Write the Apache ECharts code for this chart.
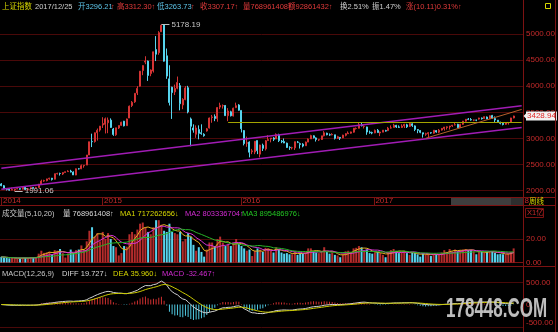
<!DOCTYPE html>
<html>
<head>
<meta charset="utf-8">
<title>上证指数 周线</title>
<script src="https://cdn.jsdelivr.net/npm/echarts@6.0.0/dist/echarts.min.js"></script>
<style>
html,body{margin:0;padding:0;background:#000;overflow:hidden}
#chart{width:558px;height:332px}
</style>
</head>
<body>
<div id="chart"></div>
<script>
// Weekly bars of the Shanghai Composite (上证指数); volume in units of 1亿 (100M lots)
const weekDates = [
'2014-04-14','2014-04-21','2014-04-28','2014-05-05','2014-05-12','2014-05-19','2014-05-26','2014-06-03','2014-06-09','2014-06-16',
'2014-06-23','2014-06-30','2014-07-07','2014-07-14','2014-07-21','2014-07-28','2014-08-04','2014-08-11','2014-08-18','2014-08-25',
'2014-09-01','2014-09-09','2014-09-15','2014-09-22','2014-09-29','2014-10-08','2014-10-13','2014-10-20','2014-10-27','2014-11-03',
'2014-11-10','2014-11-17','2014-11-24','2014-12-01','2014-12-08','2014-12-15','2014-12-22','2014-12-29',
'2015-01-05','2015-01-12','2015-01-19','2015-01-26','2015-02-02','2015-02-09','2015-02-16','2015-02-25','2015-03-02','2015-03-09',
'2015-03-16','2015-03-23','2015-03-30','2015-04-07','2015-04-13','2015-04-20','2015-04-27','2015-05-04','2015-05-11','2015-05-18',
'2015-05-25','2015-06-01','2015-06-08','2015-06-15','2015-06-23','2015-06-29','2015-07-06','2015-07-13','2015-07-20','2015-07-27',
'2015-08-03','2015-08-10','2015-08-17','2015-08-24','2015-08-31','2015-09-07','2015-09-14','2015-09-21','2015-09-28','2015-10-08',
'2015-10-12','2015-10-19','2015-10-26','2015-11-02','2015-11-09','2015-11-16','2015-11-23','2015-11-30','2015-12-07','2015-12-14',
'2015-12-21','2015-12-28',
'2016-01-04','2016-01-11','2016-01-18','2016-01-25','2016-02-01','2016-02-15','2016-02-22','2016-02-29','2016-03-07','2016-03-14',
'2016-03-21','2016-03-28','2016-04-05','2016-04-11','2016-04-18','2016-04-25','2016-05-03','2016-05-09','2016-05-16','2016-05-23',
'2016-05-30','2016-06-06','2016-06-13','2016-06-20','2016-06-27','2016-07-04','2016-07-11','2016-07-18','2016-07-25','2016-08-01',
'2016-08-08','2016-08-15','2016-08-22','2016-08-29','2016-09-05','2016-09-12','2016-09-19','2016-09-26','2016-10-10','2016-10-17',
'2016-10-24','2016-10-31','2016-11-07','2016-11-14','2016-11-21','2016-11-28','2016-12-05','2016-12-12','2016-12-19','2016-12-26',
'2017-01-03','2017-01-09','2017-01-16','2017-01-23','2017-02-03','2017-02-06','2017-02-13','2017-02-20','2017-02-27','2017-03-06',
'2017-03-13','2017-03-20','2017-03-27','2017-04-05','2017-04-10','2017-04-17','2017-04-24','2017-05-02','2017-05-08','2017-05-15',
'2017-05-22','2017-05-31','2017-06-05','2017-06-12','2017-06-19','2017-06-26','2017-07-03','2017-07-10','2017-07-17','2017-07-24',
'2017-07-31','2017-08-07','2017-08-14','2017-08-21','2017-08-28','2017-09-04','2017-09-11','2017-09-18','2017-09-25','2017-10-09',
'2017-10-16','2017-10-23','2017-10-30','2017-11-06','2017-11-13','2017-11-20','2017-11-27','2017-12-04','2017-12-11','2017-12-18',
'2017-12-25','2018-01-02','2018-01-08'
];

const openPrices = [
2130,2096,2033,2027,2012,2020,2035,2040,2030,2068,2023,2038,2060,2050,2060,2130,2185,2193,2228,2240,
2220,2325,2330,2320,2350,2365,2375,2357,2300,2420,2420,2478,2490,2683,2940,2940,3110,3160,
3258,3270,3300,3350,3180,3070,3200,3250,3330,3245,3390,3630,3700,3870,4000,4300,4460,4480,4240,4290,
4700,4640,5040,5170,4580,4140,3980,3890,3960,4010,3640,3744,3970,3373,3200,3080,3170,3110,3078,3143,
3200,3400,3420,3380,3600,3620,3630,3435,3510,3430,3590,3640,
3536,3150,2910,2930,2745,2740,2960,2700,2870,2800,2960,2990,3009,2990,3070,2950,2940,2910,2830,2820,
2820,2930,2900,2890,2860,2930,2990,3050,3010,2970,2980,3050,3100,3070,3070,3070,3000,3020,3010,3060,
3090,3100,3120,3190,3195,3260,3230,3220,3120,3110,
3105,3155,3105,3120,3150,3150,3200,3210,3250,3220,3210,3240,3260,3230,3280,3240,3170,3150,3110,3080,
3090,3110,3100,3150,3120,3160,3190,3210,3220,3240,3260,3270,3210,3270,3330,3370,3360,3350,3350,3370,
3390,3380,3410,3380,3440,3380,3350,3310,3290,3270,3296.21,3314,3392
];
const highPrices = [
2146,2110,2035,2032,2060,2035,2062,2043,2077,2075,2045,2075,2069,2075,2130,2211,2210,2230,2248,2245,
2326,2344,2345,2355,2365,2392,2400,2370,2425,2435,2500,2488,2683,2937,3091,3115,3190,3239,
3406,3400,3400,3384,3200,3205,3250,3320,3336,3380,3630,3715,3865,4000,4290,4400,4572,4490,4320,4660,
4958,5051,5178.19,5176,4720,4400,3990,4030,4184,4060,3770,4000,4006,3400,3270,3250,3250,3270,3100,3200,
3400,3450,3460,3600,3684,3650,3640,3580,3530,3590,3685,3656,
3538,3160,3035,2945,2800,2950,2960,2880,2900,2970,3062,3010,3025,3097,3090,2970,3000,2920,2850,2840,
2940,2950,2920,2910,2940,3000,3070,3060,3020,2990,3050,3140,3110,3095,3100,3070,3050,3020,3070,3100,
3135,3130,3200,3210,3300,3301,3250,3225,3150,3130,
3170,3180,3130,3160,3165,3220,3250,3280,3260,3250,3270,3280,3280,3295,3290,3250,3180,3160,3110,3110,
3120,3115,3160,3160,3180,3200,3220,3230,3240,3260,3300,3280,3280,3335,3370,3390,3390,3360,3360,3395,
3400,3420,3420,3440,3450,3420,3350,3320,3310,3310,3312.30,3395,3435
];
const lowPrices = [
2086,2030,2004,2001,2010,1991.06,2030,2021,2025,2010,2010,2036,2040,2045,2058,2128,2170,2180,2210,2195,
2216,2310,2290,2300,2345,2360,2350,2300,2296,2405,2412,2440,2490,2683,2835,2920,2960,3130,
3200,3095,3100,3200,3050,3049,3180,3240,3230,3245,3390,3600,3680,3830,3990,4210,4420,4100,4190,4260,
4480,4600,5040,4470,4140,3630,3373,3830,3940,3537,3560,3730,3480,2850,3110,3011,2983,3070,3033,3130,
3190,3300,3330,3320,3560,3570,3430,3330,3420,3420,3580,3530,
3115,2867,2840,2638,2700,2700,2700,2638,2760,2770,2950,2925,2950,2990,2931,2910,2910,2820,2780,2790,
2780,2910,2807,2830,2860,2930,2990,3000,2940,2950,2970,3040,3060,3050,3060,2980,2990,2970,3010,3040,
3090,3090,3110,3170,3190,3230,3190,3070,3090,3080,
3100,3110,3044,3120,3130,3140,3190,3210,3200,3200,3200,3200,3200,3220,3220,3140,3100,3100,3016,3050,
3020,3090,3090,3110,3100,3150,3150,3170,3170,3220,3250,3200,3200,3260,3320,3350,3340,3330,3330,3360,
3360,3370,3370,3370,3380,3310,3300,3270,3250,3260,3263.73,3314,3384
];
const closePrices = [
2097,2036,2026,2011,2026,2034,2039,2030,2070,2024,2036,2060,2047,2059,2126,2185,2194,2226,2240,2217,
2326,2331,2329,2347,2363,2374,2357,2302,2420,2419,2478,2487,2683,2937,2938,3108,3157,3235,
3285,3376,3351,3210,3076,3203,3247,3310,3241,3372,3617,3691,3863,3957,4287,4393,4480,4205,4308,4657,
4611,5023,5166,4478,4192,3687,3877,3957,4070,3664,3744,3965,3508,3232,3160,3200,3098,3092,3053,3183,
3391,3412,3383,3590,3632,3630,3436,3525,3434,3578,3627,3539,
3186,2901,2916,2737,2763,2946,2767,2874,2810,2955,2979,3009,2985,3078,2959,2938,2913,2827,2825,2822,
2938,2927,2885,2854,2932,2988,3054,3013,2979,2977,3050,3108,3070,3067,3078,3003,3033,3005,3064,3091,
3104,3125,3196,3192,3262,3243,3232,3122,3110,3104,
3154,3112,3123,3159,3140,3196,3202,3253,3218,3212,3237,3269,3222,3286,3246,3173,3155,3117,3083,3090,
3110,3105,3158,3123,3158,3192,3217,3222,3238,3253,3262,3208,3268,3332,3367,3365,3353,3353,3349,3391,
3378,3416,3372,3433,3382,3353,3317,3289,3266,3297.06,3307.17,3391.75,3428.94
];
const volumes = [
4.8,4.5,3.9,3.6,3.9,3.7,3.3,3.6,4.2,4.0,3.6,4.6,4.2,4.6,7.5,10.0,8.2,8.6,9.2,6.5,
10.5,10.0,11.5,8.0,4.2,7.5,11.0,8.3,10.5,11.0,14.5,11.0,18.0,27.0,30.0,22.0,25.0,18.0,
26.0,20.0,25.0,20.0,14.0,13.0,6.0,8.0,14.0,13.5,24.0,26.0,24.0,28.0,33.0,34.0,30.0,26.0,24.0,30.0,
36.0,36.0,32.0,27.0,26.0,33.0,26.0,25.0,24.0,26.0,18.0,20.0,25.0,22.0,15.0,10.0,13.0,9.0,5.0,11.0,
17.0,17.0,14.0,20.0,22.0,17.0,14.0,15.0,14.0,17.0,20.0,16.0,
14.0,12.0,10.0,11.0,5.5,10.0,12.0,11.0,9.0,12.5,12.0,10.0,8.5,13.0,11.5,8.5,7.5,8.0,7.0,7.0,
9.5,6.5,8.0,7.5,8.5,12.0,12.0,9.5,8.5,8.0,9.5,13.0,9.0,7.5,8.5,6.5,6.0,4.5,7.0,9.5,
10.0,9.0,12.0,12.5,14.0,13.0,10.0,11.0,8.0,7.5,
8.5,9.0,8.0,6.5,4.5,9.0,10.5,11.5,9.5,8.0,9.0,10.0,8.0,6.5,8.5,8.0,7.0,5.0,8.0,7.0,
7.5,5.5,7.0,7.0,6.5,8.5,10.5,9.0,11.5,9.5,11.0,9.5,10.5,11.0,11.5,10.5,10.5,9.5,7.0,9.0,
9.77,8.5,9.0,9.2,9.6,8.19,7.0,7.2,7.0,6.95,7.69,9.0,12.0
];

// axis ticks and drawn reference lines
const priceTicks = [2000, 2500, 3000, 3500, 4000, 4500, 5000];
const volumeTicks = [0, 20];
const macdTicks = [-500, 0, 500];
const channelUpper = [[0, 2432], [195, 3624]];
const channelLower = [[0, 2030], [195, 3211]];
const supportLine = [[85, 3309], [195, 3309]];
const riseLine = [[159, 3003], [195, 3555]];

const FONT = '"Liberation Sans","Noto Sans CJK SC",sans-serif';
const HEAD_FONT = '7.5px ' + FONT;
const AXIS_TXT = '#c42a2a';
const GRID_CLR = '#4a0909';
const FRAME = '#7c1212';
const UP = '#d43434';
const DOWN = '#56d4ee';

const cats = weekDates.concat([' ', '  ', '   ']);
const lastBar = closePrices.length - 1;

const candleData = openPrices.map((o, i) => [o, closePrices[i], lowPrices[i], highPrices[i]]);

let hiIdx = 0, loIdx = 0;
highPrices.forEach((v, i) => { if (v > highPrices[hiIdx]) hiIdx = i; });
lowPrices.forEach((v, i) => { if (v < lowPrices[loIdx]) loIdx = i; });

// moving averages of volume (window shortened at the start of the range)
function movingAvg(arr, n) {
  return arr.map((_, i) => {
    const s = Math.max(0, i - n + 1);
    let t = 0;
    for (let k = s; k <= i; k++) t += arr[k];
    return +(t / (i - s + 1)).toFixed(3);
  });
}
function ema(arr, n) {
  const a = 2 / (n + 1), out = [];
  arr.forEach((v, i) => out.push(i === 0 ? v : a * v + (1 - a) * out[i - 1]));
  return out;
}
const volMA5 = movingAvg(volumes, 5);
const volMA10 = movingAvg(volumes, 10);
const volMA20 = movingAvg(volumes, 20);
const ema12 = ema(closePrices, 12), ema26 = ema(closePrices, 26);
const diffLine = ema12.map((v, i) => +(v - ema26[i]).toFixed(3));
const deaLine = ema(diffLine, 9).map(v => +v.toFixed(3));
const macdBars = diffLine.map((v, i) => +(2 * (v - deaLine[i])).toFixed(3));

const volData = volumes.map((v, i) => ({
  value: v,
  itemStyle: { color: closePrices[i] >= openPrices[i] ? '#b42c2c' : DOWN }
}));
const macdData = macdBars.map(v => ({ value: v, itemStyle: { color: v >= 0 ? '#d03030' : '#4fc8e0' } }));

const isYearStart = (idx) => idx < weekDates.length && (idx === 0 || weekDates[idx].slice(0, 4) !== weekDates[idx - 1].slice(0, 4));

function seg(pts, color, width) {
  return [
    { coord: [cats[pts[0][0]], pts[0][1]], lineStyle: { color: color, width: width, type: 'solid' } },
    { coord: [cats[pts[1][0]], pts[1][1]] }
  ];
}
function extremeNote(idx, val) {
  return [
    { coord: [cats[idx], val], lineStyle: { color: '#bdbdbd', width: 1, type: 'solid' },
      label: { show: true, position: 'end', distance: 2, formatter: val.toFixed(2), color: '#c6c6c6', fontSize: 8, fontFamily: FONT } },
    { coord: [cats[idx + 3], val] }
  ];
}

// header texts
const titleItems = [
  { x: 2, t: '上证指数', c: '#d6d600' },
  { x: 35, t: '2017/12/25', c: '#cfcfcf' },
  { x: 78, t: '开3296.21', c: '#5ec6ea' }, { x: 111, t: '↑', c: '#e03a3a' },
  { x: 117, t: '高3312.30↑', c: '#e03a3a' },
  { x: 157, t: '低3263.73', c: '#5ec6ea' }, { x: 191, t: '↑', c: '#e03a3a' },
  { x: 200, t: '收3307.17↑', c: '#e03a3a' },
  { x: 243, t: '量768961408↑', c: '#e03a3a' },
  { x: 288, t: '额92861432↑', c: '#e03a3a' },
  { x: 340, t: '换2.51%', c: '#cfcfcf' },
  { x: 372, t: '振1.47%', c: '#cfcfcf' },
  { x: 406, t: '涨(10.11)0.31%↑', c: '#e03a3a' }
];
const volHeader = [
  { x: 2, t: '成交量(5,10,20)', c: '#c8c8c8' },
  { x: 63, t: '量 768961408↑', c: '#d8d8d8' },
  { x: 120, t: 'MA1 717262656↓', c: '#d6d600' },
  { x: 185, t: 'MA2 803336704↑', c: '#d22ad2' },
  { x: 242, t: 'MA3 895486976↓', c: '#22c422' }
];
const macdHeader = [
  { x: 2, t: 'MACD(12,26,9)', c: '#c8c8c8' },
  { x: 62, t: 'DIFF 19.727↓', c: '#d8d8d8' },
  { x: 113, t: 'DEA 35.960↓', c: '#d6d600' },
  { x: 162, t: 'MACD -32.467↑', c: '#d22ad2' }
];

function textRow(items, y) {
  return items.map(it => ({
    type: 'text', x: it.x, y: y, z: 50,
    style: { text: it.t, fill: it.c, font: HEAD_FONT, verticalAlign: 'middle' }
  }));
}
function hLine(y, x1, x2, color) {
  return { type: 'line', z: 40, shape: { x1: x1, y1: y, x2: x2, y2: y }, style: { stroke: color || FRAME, lineWidth: 1 } };
}
function vLine(x, y1, y2, color) {
  return { type: 'line', z: 40, shape: { x1: x, y1: y1, x2: x, y2: y2 }, style: { stroke: color || FRAME, lineWidth: 1 } };
}

const axisLabelBase = { color: AXIS_TXT, fontSize: 8, fontFamily: FONT, margin: 3 };

const chart = echarts.init(document.getElementById('chart'), null, { renderer: 'canvas' });
chart.setOption({
  backgroundColor: '#000',
  animation: false,
  grid: [
    { left: 0, right: 35, top: 14, height: 183 },
    { left: 0, right: 35, top: 197, height: 9 },
    { left: 0, right: 35, top: 217, height: 45.5 },
    { left: 0, right: 35, top: 277.9, height: 53.3 }
  ],
  xAxis: [
    { type: 'category', gridIndex: 0, data: cats, axisLine: { show: false }, axisTick: { show: false }, axisLabel: { show: false } },
    { type: 'category', gridIndex: 1, data: cats, axisLine: { show: false },
      axisTick: { show: true, inside: true, length: 9, interval: isYearStart, lineStyle: { color: FRAME } },
      axisLabel: { show: true, inside: true, interval: isYearStart, margin: 1, align: 'left', color: AXIS_TXT, fontSize: 8, fontFamily: FONT,
        formatter: v => v.slice(0, 4) } },
    { type: 'category', gridIndex: 2, data: cats, axisLine: { show: true, lineStyle: { color: FRAME } }, axisTick: { show: false }, axisLabel: { show: false } },
    { type: 'category', gridIndex: 3, data: cats, axisLine: { show: false }, axisTick: { show: false }, axisLabel: { show: false } }
  ],
  yAxis: [
    { type: 'value', gridIndex: 0, position: 'right', min: 1880, max: 5380, interval: 20,
      splitLine: { show: false }, axisLine: { show: false }, axisTick: { show: false },
      axisLabel: Object.assign({}, axisLabelBase, { formatter: v => priceTicks.includes(v) ? v.toFixed(2) : '' }) },
    { type: 'value', gridIndex: 1, show: false },
    { type: 'value', gridIndex: 2, position: 'right', min: 0, max: 38.7, interval: 10,
      splitLine: { show: false }, axisLine: { show: false }, axisTick: { show: false },
      axisLabel: Object.assign({}, axisLabelBase, { formatter: v => volumeTicks.includes(v) ? v.toFixed(2) : '' }) },
    { type: 'value', gridIndex: 3, position: 'right', min: -600, max: 600, interval: 100,
      splitLine: { show: false }, axisLine: { show: false }, axisTick: { show: false },
      axisLabel: Object.assign({}, axisLabelBase, {
        formatter: v => !macdTicks.includes(v) ? '' : (v === 0 ? '0' : (v < 0 ? '{low|' + v.toFixed(2) + '}' : v.toFixed(2))),
        rich: { low: { color: AXIS_TXT, fontSize: 8, fontFamily: FONT, padding: [0, 0, 7, 0] } } }) }
  ],
  series: [
    { // horizontal grid lines behind the candles
      type: 'line', xAxisIndex: 0, yAxisIndex: 0, data: [], silent: true,
      markLine: { z: 1, silent: true, symbol: ['none', 'none'], label: { show: false },
        lineStyle: { color: GRID_CLR, width: 1, type: 'solid' },
        data: priceTicks.map(v => ({ yAxis: v })) }
    },
    {
      type: 'candlestick', xAxisIndex: 0, yAxisIndex: 0, z: 3, data: candleData, barWidth: 1.5,
      itemStyle: { color: '#b82a2a', color0: DOWN, borderColor: UP, borderColor0: DOWN, borderWidth: 1 },
      markLine: {
        silent: true, symbol: ['none', 'none'], label: { show: false },
        data: [
          seg(channelUpper, '#a01cb4', 1.5),
          seg(channelLower, '#a01cb4', 1.5),
          seg(supportLine, '#a4a400', 1),
          seg(riseLine, '#b4602c', 1),
          extremeNote(hiIdx, highPrices[hiIdx]),
          extremeNote(loIdx, lowPrices[loIdx]),
          { yAxis: closePrices[lastBar], lineStyle: { width: 1, color: 'rgba(0,0,0,0)' },
            label: { show: true, position: 'end', distance: 3, formatter: closePrices[lastBar].toFixed(2),
              color: '#e02626', backgroundColor: '#f2f2f2', padding: [1, 1, 0, 1], fontSize: 8, fontFamily: FONT } }
        ]
      }
    },
    {
      type: 'line', xAxisIndex: 2, yAxisIndex: 2, data: [], silent: true,
      markLine: { z: 1, silent: true, symbol: ['none', 'none'], label: { show: false },
        lineStyle: { color: GRID_CLR, width: 1, type: 'solid' }, data: [{ yAxis: 20 }] }
    },
    { type: 'bar', xAxisIndex: 2, yAxisIndex: 2, z: 3, data: volData, barWidth: 2 },
    { type: 'line', xAxisIndex: 2, yAxisIndex: 2, z: 4, data: volMA5, symbol: 'none', lineStyle: { color: '#e6b422', width: 1 } },
    { type: 'line', xAxisIndex: 2, yAxisIndex: 2, z: 4, data: volMA10, symbol: 'none', lineStyle: { color: '#d832d8', width: 1 } },
    { type: 'line', xAxisIndex: 2, yAxisIndex: 2, z: 4, data: volMA20, symbol: 'none', lineStyle: { color: '#28b428', width: 1 } },
    {
      type: 'bar', xAxisIndex: 3, yAxisIndex: 3, z: 3, data: macdData, barWidth: 1,
      markLine: { z: 1, silent: true, symbol: ['none', 'none'], label: { show: false },
        lineStyle: { color: GRID_CLR, width: 1, type: 'solid' }, data: [{ yAxis: 500 }, { yAxis: -500 }] }
    },
    { type: 'line', xAxisIndex: 3, yAxisIndex: 3, z: 4, data: diffLine, symbol: 'none', lineStyle: { color: '#d2d2d2', width: 1 } },
    { type: 'line', xAxisIndex: 3, yAxisIndex: 3, z: 4, data: deaLine, symbol: 'none', lineStyle: { color: '#cccc00', width: 1 } }
  ],
  graphic: [].concat(
    textRow(titleItems, 7),
    textRow(volHeader, 213.5),
    textRow(macdHeader, 273.5),
    [
      vLine(523.5, 0, 332), vLine(555.5, 0, 332),
      hLine(197.5, 0, 556), hLine(205.5, 0, 556), hLine(266.5, 0, 556),
      { type: 'rect', z: 60, shape: { x: 451, y: 198, width: 60, height: 7 }, style: { fill: '#3e3e3e' } },
      { type: 'rect', z: 60, shape: { x: 511, y: 198, width: 12, height: 7 }, style: { fill: '#2e2e2e' } },
      { type: 'text', z: 60, x: 529, y: 201.8, style: { text: '周线', fill: '#d6d600', font: HEAD_FONT, verticalAlign: 'middle' } },
      { type: 'rect', z: 60, shape: { x: 545.5, y: 3.5, width: 5, height: 5 }, style: { fill: 'none', stroke: '#d6d600', lineWidth: 1 } },
      { type: 'text', z: 60, x: 527, y: 213.3, style: { text: 'X1亿', fill: AXIS_TXT, font: HEAD_FONT, verticalAlign: 'middle' } },
      { type: 'rect', z: 60, shape: { x: 525.5, y: 208.5, width: 18, height: 9 }, style: { fill: 'none', stroke: FRAME, lineWidth: 1 } },
      { type: 'text', z: 70, x: 446, y: 296, scaleX: 0.63, style: { text: '178448.COM', fill: '#cdcdcd', font: 'bold 27px "Liberation Sans",sans-serif', opacity: 0.92 } },
      { id: 'tagPointer', type: 'polygon', z: 80, invisible: true, shape: { points: [[0, 0], [0, 0], [0, 0]] }, style: { fill: '#f2f2f2' } }
    ]
  )
});

// small pointer on the left of the last-price tag, placed once the axis scale is known
const tagY = chart.convertToPixel({ yAxisIndex: 0 }, closePrices[lastBar]);
chart.setOption({
  graphic: [{ id: 'tagPointer', type: 'polygon', invisible: false,
    shape: { points: [[523.5, tagY], [527, tagY - 3.5], [527, tagY + 3.5]] } }]
});
</script>
</body>
</html>
